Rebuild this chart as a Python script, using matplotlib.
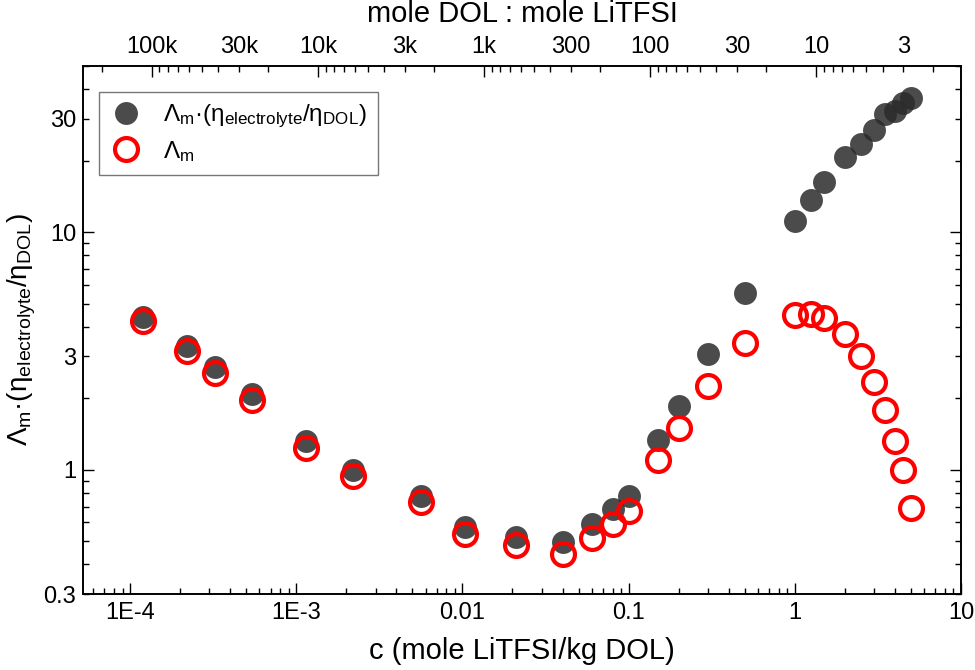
import numpy as np
import matplotlib
matplotlib.use("Agg")
import matplotlib.pyplot as plt
from matplotlib.ticker import FixedLocator, FuncFormatter, NullFormatter

plt.rcParams['font.family'] = ['Liberation Sans', 'DejaVu Sans']
plt.rcParams['mathtext.fontset'] = 'custom'
plt.rcParams['mathtext.rm'] = 'Liberation Sans'
plt.rcParams['mathtext.it'] = 'Liberation Sans'
plt.rcParams['mathtext.default'] = 'regular'

# concentration (mole LiTFSI / kg DOL)
conc = [1.2e-4, 2.2e-4, 3.25e-4, 5.4e-4, 1.15e-3, 2.2e-3, 5.6e-3, 0.0104, 0.021,
        0.04, 0.06, 0.08, 0.1, 0.15, 0.2, 0.3, 0.5,
        1.0, 1.25, 1.5, 2.0, 2.5, 3.0, 3.5, 4.0, 4.5, 5.0]
# viscosity-corrected molar conductivity
lam_corr = [4.41, 3.33, 2.70, 2.09, 1.32, 1.00, 0.776, 0.573, 0.521,
            0.496, 0.592, 0.684, 0.776, 1.34, 1.86, 3.07, 5.55,
            11.1, 13.7, 16.3, 20.7, 23.5, 27.0, 31.3, 32.2, 34.8, 36.6]
# molar conductivity
lam_m = [4.23, 3.17, 2.56, 1.96, 1.24, 0.942, 0.729, 0.535, 0.484,
         0.442, 0.518, 0.592, 0.668, 1.10, 1.50, 2.25, 3.41,
         4.48, 4.51, 4.36, 3.72, 3.02, 2.34, 1.78, 1.32, 0.993, 0.690]

x_ticks = [1e-4, 1e-3, 1e-2, 1e-1, 1, 10]
x_ticklabels = ['1E-4', '1E-3', '0.01', '0.1', '1', '10']
y_major = [1, 10]
y_labeled = {0.3: '0.3', 1: '1', 3: '3', 10: '10', 30: '30'}
top_labeled = {1e5: '100k', 3e4: '30k', 1e4: '10k', 3e3: '3k', 1e3: '1k',
               300: '300', 100: '100', 30: '30', 10: '10', 3: '3'}
MOL_PER_KG_DOL = 13.5
XLIM = (5.2e-5, 10)

corr_label = r'$\Lambda_m$·(η$_{electrolyte}$/η$_{DOL}$)'

fig = plt.figure(figsize=(9.75, 6.7), dpi=100)
ax = fig.add_axes([0.0851, 0.1134, 0.9005, 0.7881])

ax.plot(conc, lam_corr, 'o', ms=16.5, color='#2b2b2b', alpha=0.85, mec='none',
        label=corr_label, zorder=2)
ax.plot(conc, lam_m, 'o', ms=16.5, mfc='none', mec='#ff0000', mew=3.0,
        label=r'$\Lambda_m$', zorder=3)

ax.set_xscale('log')
ax.set_yscale('log')
ax.set_xlim(*XLIM)
ax.set_ylim(0.3, 50)

ax.xaxis.set_major_locator(FixedLocator(x_ticks))
ax.set_xticklabels(x_ticklabels)
xminor = [m * 10.0 ** e for e in range(-5, 1) for m in range(2, 10)]
ax.xaxis.set_minor_locator(FixedLocator(xminor))
ax.xaxis.set_minor_formatter(NullFormatter())

ax.yaxis.set_major_locator(FixedLocator(y_major))
yminor = [m * 10.0 ** e for e in range(-1, 2) for m in range(2, 10)]
ax.yaxis.set_minor_locator(FixedLocator(yminor))

def make_fmt(table):
    def f(v, pos):
        for k, s in table.items():
            if abs(v - k) / k < 1e-6:
                return s
        return ''
    return FuncFormatter(f)

ax.yaxis.set_major_formatter(make_fmt(y_labeled))
ax.yaxis.set_minor_formatter(make_fmt(y_labeled))

ax.tick_params(which='both', direction='in', top=False, right=True, labelsize=17, width=1.0)
ax.tick_params(which='major', length=8)
ax.tick_params(which='minor', length=4.5)
ax.tick_params(axis='x', which='both', pad=6)
ax.tick_params(axis='y', which='both', pad=5)
for s in ax.spines.values():
    s.set_linewidth(1.2)

ax.set_xlabel('c (mole LiTFSI/kg DOL)', fontsize=21, labelpad=9)
ax.set_ylabel(corr_label, fontsize=20, labelpad=4)

# top axis: mole ratio DOL : LiTFSI
ax2 = ax.twiny()
ax2.set_xscale('log')
ax2.set_xlim(MOL_PER_KG_DOL / XLIM[0], MOL_PER_KG_DOL / XLIM[1])
ax2.xaxis.set_major_locator(FixedLocator([1e5, 1e4, 1e3, 100, 10]))
topminor = [m * 10.0 ** e for e in range(0, 6) for m in range(2, 10)]
ax2.xaxis.set_minor_locator(FixedLocator(topminor))
ax2.xaxis.set_major_formatter(make_fmt(top_labeled))
ax2.xaxis.set_minor_formatter(make_fmt(top_labeled))
ax2.tick_params(which='both', direction='in', labelsize=17, width=1.0, pad=6)
ax2.tick_params(which='major', length=8)
ax2.tick_params(which='minor', length=4.5)
ax2.set_xlabel('mole DOL : mole LiTFSI', fontsize=21, labelpad=10)
for s in ax2.spines.values():
    s.set_linewidth(1.2)

leg = ax.legend(loc='upper left', bbox_to_anchor=(0.018, 0.951), fontsize=17.5,
                frameon=True, fancybox=False, edgecolor='#555555',
                borderpad=0.45, labelspacing=0.35, handlelength=1.3,
                handletextpad=0.9, borderaxespad=0)
leg.get_frame().set_linewidth(1.0)

fig.savefig('out.png', dpi=100)
